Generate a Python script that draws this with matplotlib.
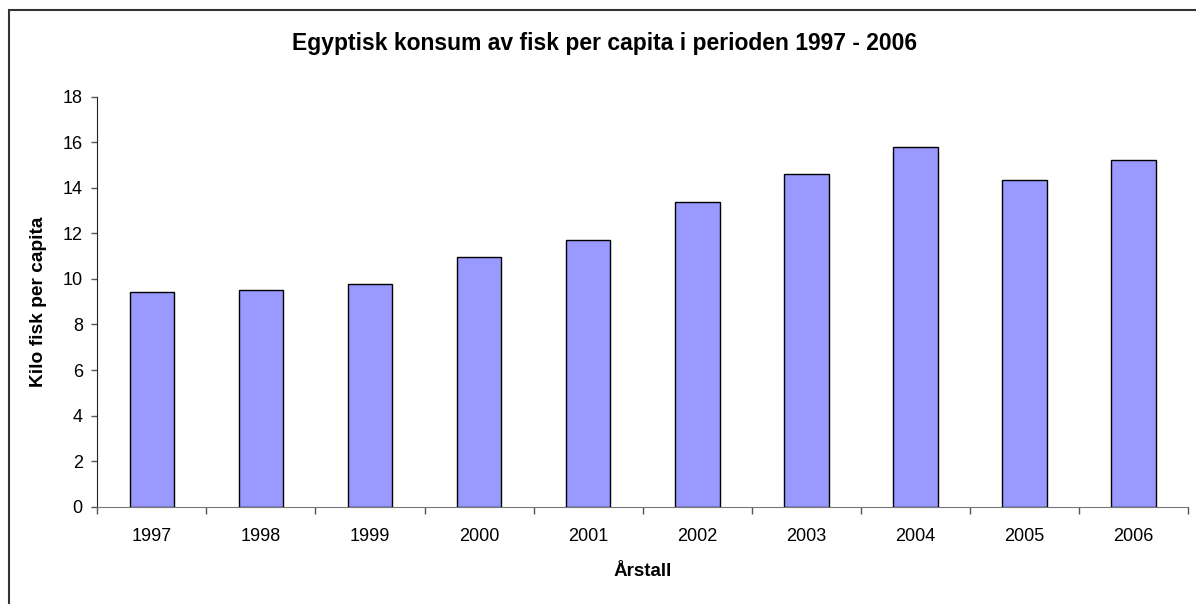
import matplotlib
matplotlib.use("Agg")
import matplotlib.pyplot as plt
from matplotlib.patches import Rectangle

years = ["1997", "1998", "1999", "2000", "2001", "2002", "2003", "2004", "2005", "2006"]
kilo_per_capita = [9.43, 9.51, 9.77, 10.98, 11.70, 13.39, 14.62, 15.80, 14.33, 15.22]

plt.rcParams['font.family'] = ['Liberation Sans', 'DejaVu Sans']

fig = plt.figure(figsize=(11.96, 6.04), dpi=100)
ax = fig.add_axes([0.0814, 0.1611, 0.9119, 0.6788])

# outer chart frame (cut off at right and bottom as in the original)
fig.patches.append(Rectangle((9 / 1196, -0.1), 1.2, 1 - 10 / 604 + 0.1,
                             transform=fig.transFigure, fill=False,
                             edgecolor='#333333', linewidth=1.5))

x = list(range(len(years)))
ax.bar(x, kilo_per_capita, width=0.41, color='#9999FF', edgecolor='black', linewidth=1.0, zorder=3)

ax.set_xlim(-0.5, len(years) - 0.5)
ax.set_ylim(0, 18)
ax.set_yticks(range(0, 19, 2))
ax.set_xticks([i - 0.5 for i in range(len(years) + 1)])
ax.set_xticklabels([])
ax.set_xticks(x, minor=True)
ax.set_xticklabels(years, minor=True)
ax.tick_params(axis='x', which='major', direction='out', length=5, width=1, color='#555555')
ax.tick_params(axis='x', which='minor', length=0, pad=15, labelsize=13)
ax.tick_params(axis='y', direction='out', length=4.5, width=1, color='#555555', labelsize=13, pad=6)

for s in ['top', 'right']:
    ax.spines[s].set_visible(False)
ax.spines['left'].set_color('#222222')
ax.spines['bottom'].set_color('#777777')

ax.set_xlabel('Årstall', fontsize=13.5, fontweight='bold', labelpad=13)
ax.set_ylabel('Kilo fisk per capita', fontsize=13.8, fontweight='bold', labelpad=11)
fig.text(605 / 1196, 1 - 50 / 604, 'Egyptisk konsum av fisk per capita i perioden 1997 - 2006',
         ha='center', va='baseline', fontsize=16.5, fontweight='bold')

fig.savefig('out.png', dpi=100)
